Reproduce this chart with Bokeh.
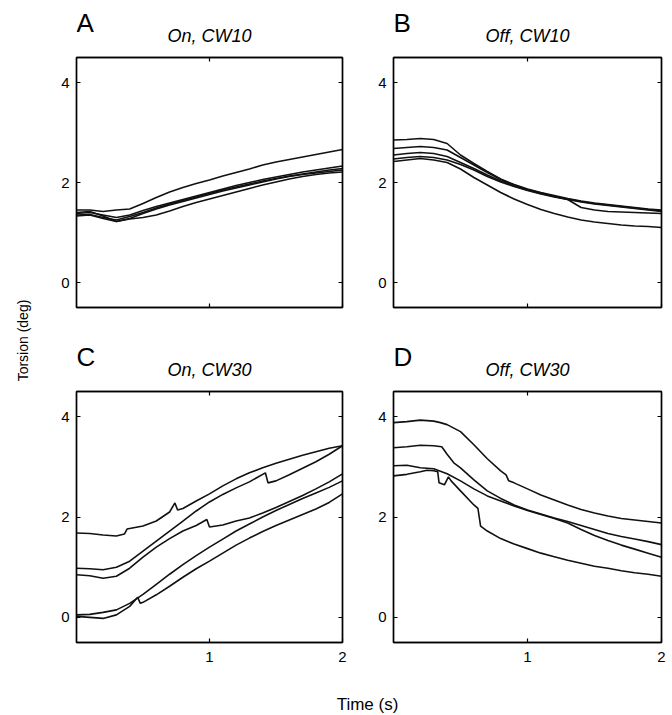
from bokeh.plotting import figure
from bokeh.layouts import row, column
from bokeh.models import Range1d, FixedTicker, LinearAxis
from bokeh.core.properties import value
from bokeh.embed import file_html
from bokeh.resources import INLINE

FONT = "Liberation Sans"

# ---------------- data (time in s, torsion in deg) ----------------
T21 = [0.0, 0.1, 0.2, 0.3, 0.4, 0.5, 0.6, 0.7, 0.8, 0.9, 1.0,
       1.1, 1.2, 1.3, 1.4, 1.5, 1.6, 1.7, 1.8, 1.9, 2.0]

# Panel A: On, CW10
a1 = [1.45, 1.45, 1.42, 1.45, 1.47, 1.58, 1.70, 1.81, 1.90, 1.98, 2.05, 2.13, 2.20, 2.27, 2.35, 2.41, 2.46, 2.51, 2.56, 2.61, 2.66]
a2 = [1.38, 1.40, 1.35, 1.30, 1.35, 1.44, 1.52, 1.59, 1.66, 1.73, 1.80, 1.87, 1.94, 2.00, 2.06, 2.11, 2.16, 2.21, 2.25, 2.29, 2.33]
a3 = [1.35, 1.36, 1.30, 1.25, 1.32, 1.40, 1.49, 1.57, 1.64, 1.71, 1.78, 1.85, 1.91, 1.97, 2.03, 2.08, 2.13, 2.17, 2.21, 2.25, 2.28]
a4 = [1.40, 1.42, 1.33, 1.22, 1.28, 1.38, 1.47, 1.55, 1.62, 1.69, 1.76, 1.83, 1.89, 1.95, 2.01, 2.07, 2.12, 2.16, 2.19, 2.22, 2.25]
a5 = [1.33, 1.35, 1.28, 1.22, 1.27, 1.30, 1.35, 1.43, 1.52, 1.60, 1.67, 1.74, 1.81, 1.88, 1.95, 2.01, 2.07, 2.12, 2.16, 2.19, 2.21]

# Panel B: Off, CW10
b1 = [2.85, 2.86, 2.88, 2.86, 2.78, 2.55, 2.38, 2.22, 2.07, 1.96, 1.87, 1.80, 1.74, 1.68, 1.63, 1.59, 1.56, 1.53, 1.50, 1.47, 1.45]
b2 = [2.68, 2.70, 2.72, 2.70, 2.65, 2.50, 2.35, 2.20, 2.06, 1.95, 1.86, 1.79, 1.72, 1.67, 1.62, 1.58, 1.55, 1.52, 1.49, 1.46, 1.43]
b3 = [2.55, 2.58, 2.60, 2.58, 2.52, 2.40, 2.28, 2.15, 2.03, 1.93, 1.85, 1.78, 1.72, 1.66, 1.50, 1.45, 1.42, 1.41, 1.40, 1.39, 1.38]
b4 = [2.47, 2.50, 2.52, 2.50, 2.45, 2.36, 2.25, 2.12, 2.01, 1.92, 1.84, 1.77, 1.71, 1.66, 1.61, 1.57, 1.54, 1.51, 1.48, 1.45, 1.42]
b5 = [2.42, 2.45, 2.48, 2.45, 2.40, 2.27, 2.10, 1.95, 1.80, 1.67, 1.56, 1.46, 1.38, 1.31, 1.25, 1.21, 1.18, 1.15, 1.13, 1.12, 1.10]

# Panel C: On, CW30
c1_t = [0.0, 0.1, 0.2, 0.3, 0.36, 0.38, 0.5, 0.6, 0.7, 0.74, 0.76, 0.8, 0.9, 1.0, 1.1, 1.2, 1.3, 1.4, 1.5, 1.6, 1.7, 1.8, 1.9, 2.0]
c1_v = [1.68, 1.67, 1.64, 1.62, 1.66, 1.76, 1.82, 1.92, 2.10, 2.28, 2.14, 2.17, 2.32, 2.46, 2.62, 2.76, 2.88, 2.98, 3.07, 3.15, 3.23, 3.30, 3.37, 3.42]
c2_t = [0.0, 0.1, 0.2, 0.3, 0.4, 0.5, 0.6, 0.7, 0.8, 0.9, 1.0, 1.1, 1.2, 1.3, 1.42, 1.44, 1.5, 1.6, 1.7, 1.8, 1.9, 2.0]
c2_v = [0.98, 0.97, 0.95, 1.00, 1.12, 1.32, 1.52, 1.72, 1.92, 2.12, 2.30, 2.45, 2.58, 2.70, 2.88, 2.68, 2.72, 2.84, 2.97, 3.10, 3.25, 3.42]
c3_t = [0.0, 0.1, 0.2, 0.3, 0.4, 0.5, 0.6, 0.7, 0.8, 0.9, 0.98, 1.0, 1.1, 1.2, 1.3, 1.4, 1.5, 1.6, 1.7, 1.8, 1.9, 2.0]
c3_v = [0.85, 0.83, 0.78, 0.82, 0.98, 1.20, 1.40, 1.57, 1.72, 1.83, 1.95, 1.80, 1.84, 1.92, 1.98, 2.08, 2.19, 2.31, 2.43, 2.56, 2.70, 2.86]
c4_v = [0.05, 0.06, 0.10, 0.15, 0.28, 0.46, 0.66, 0.86, 1.05, 1.23, 1.40, 1.56, 1.72, 1.86, 2.00, 2.13, 2.25, 2.37, 2.48, 2.59, 2.72]
c5_t = [0.0, 0.1, 0.2, 0.3, 0.4, 0.46, 0.48, 0.5, 0.6, 0.7, 0.8, 0.9, 1.0, 1.1, 1.2, 1.3, 1.4, 1.5, 1.6, 1.7, 1.8, 1.9, 2.0]
c5_v = [0.02, 0.00, -0.02, 0.05, 0.22, 0.40, 0.28, 0.30, 0.45, 0.62, 0.80, 0.97, 1.12, 1.28, 1.44, 1.58, 1.71, 1.83, 1.94, 2.05, 2.16, 2.29, 2.46]

# Panel D: Off, CW30
d1_t = [0.0, 0.1, 0.2, 0.3, 0.35, 0.4, 0.5, 0.6, 0.7, 0.8, 0.84, 0.86, 0.9, 1.0, 1.1, 1.2, 1.3, 1.4, 1.5, 1.6, 1.7, 1.8, 1.9, 2.0]
d1_v = [3.88, 3.90, 3.93, 3.91, 3.88, 3.84, 3.70, 3.44, 3.16, 2.92, 2.84, 2.72, 2.68, 2.56, 2.44, 2.34, 2.24, 2.15, 2.08, 2.02, 1.97, 1.94, 1.91, 1.88]
d2_t = [0.0, 0.1, 0.2, 0.3, 0.36, 0.4, 0.45, 0.5, 0.6, 0.7, 0.8, 0.9, 1.0, 1.1, 1.2, 1.3, 1.4, 1.5, 1.6, 1.7, 1.8, 1.9, 2.0]
d2_v = [3.38, 3.40, 3.43, 3.42, 3.40, 3.25, 3.08, 2.98, 2.74, 2.52, 2.37, 2.24, 2.14, 2.06, 1.98, 1.91, 1.83, 1.75, 1.67, 1.61, 1.56, 1.51, 1.45]
d3_v = [3.02, 3.03, 2.98, 2.96, 2.86, 2.72, 2.56, 2.42, 2.32, 2.22, 2.13, 2.05, 1.97, 1.88, 1.75, 1.63, 1.53, 1.44, 1.36, 1.28, 1.20]
d4_t = [0.0, 0.1, 0.2, 0.25, 0.3, 0.33, 0.34, 0.38, 0.41, 0.43, 0.5, 0.6, 0.63, 0.65, 0.7, 0.8, 0.9, 1.0, 1.1, 1.2, 1.3, 1.4, 1.5, 1.6, 1.7, 1.8, 1.9, 2.0]
d4_v = [2.82, 2.85, 2.90, 2.93, 2.92, 2.90, 2.68, 2.64, 2.80, 2.72, 2.52, 2.24, 2.17, 1.82, 1.72, 1.57, 1.46, 1.37, 1.28, 1.21, 1.14, 1.08, 1.02, 0.98, 0.93, 0.89, 0.86, 0.82]

panel_letters = ["A", "B", "C", "D"]
panel_titles = ["On, CW10", "Off, CW10", "On, CW30", "Off, CW30"]
y_ticks = [0, 2, 4]
x_ticks = [1, 2]
y_label = "Torsion (deg)"
x_label = "Time (s)"

panels_data = [
    [(T21, a1), (T21, a2), (T21, a3), (T21, a4), (T21, a5)],
    [(T21, b1), (T21, b2), (T21, b3), (T21, b4), (T21, b5)],
    [(c1_t, c1_v), (c2_t, c2_v), (c3_t, c3_v), (T21, c4_v), (c5_t, c5_v)],
    [(d1_t, d1_v), (d2_t, d2_v), (T21, d3_v), (d4_t, d4_v)],
]

LINE = "#111111"
HDR_H = 52        # header strip height (px) above each panel
LETTER_BASE = 30  # baseline of panel letter, px above header bottom
TITLE_BASE = 17   # baseline of panel title, px above header bottom


def style_axis(ax, ticks, show_labels, standoff):
    ax.ticker = FixedTicker(ticks=ticks)
    ax.major_tick_in = 4
    ax.major_tick_out = 0
    ax.minor_tick_line_color = None
    ax.major_tick_line_color = "black"
    ax.major_tick_line_width = 1.2
    ax.axis_line_color = "black"
    ax.axis_line_width = 1.4
    ax.major_label_text_font = FONT
    ax.major_label_text_font_size = "15px"
    ax.major_label_text_color = "black"
    ax.major_label_standoff = standoff
    if not show_labels:
        ax.major_label_overrides = {t: "" for t in ticks}
        ax.major_label_standoff = 0


def make_header(i, fw, ml, mr):
    h = figure(frame_width=fw, frame_height=HDR_H,
               x_range=Range1d(0, 2), y_range=Range1d(0, HDR_H),
               min_border_left=ml, min_border_right=mr,
               min_border_top=0, min_border_bottom=0,
               toolbar_location=None, output_backend="svg")
    h.axis.visible = False
    h.grid.visible = False
    h.outline_line_color = None
    h.text(x=[0], y=[LETTER_BASE], text=[panel_letters[i]],
           text_font=value(FONT), text_font_size=value("26px"),
           text_color="black", text_baseline="alphabetic", text_align="left")
    h.text(x=[1], y=[TITLE_BASE], text=[panel_titles[i]],
           text_font=value(FONT), text_font_size=value("18px"),
           text_font_style="italic", text_color="black",
           text_baseline="alphabetic", text_align="center")
    return h


def make_panel(i, fw, fh, ml, mr, mt, mb, xlabels):
    p = figure(frame_width=fw, frame_height=fh,
               x_range=Range1d(0, 2), y_range=Range1d(-0.5, 4.5),
               min_border_left=ml, min_border_right=mr,
               min_border_top=mt, min_border_bottom=mb,
               toolbar_location=None, output_backend="svg", title=None)
    p.grid.visible = False
    p.outline_line_color = "black"
    p.outline_line_width = 1.4
    style_axis(p.left[0], y_ticks, True, 7)
    style_axis(p.below[0], x_ticks, xlabels, 9)
    right = LinearAxis()
    style_axis(right, y_ticks, False, 0)
    p.add_layout(right, "right")
    top = LinearAxis()
    style_axis(top, [1], False, 0)
    p.add_layout(top, "above")
    for t, v in panels_data[i]:
        p.line(t, v, line_color=LINE, line_width=1.6)
    return p


hA = make_header(0, 266, 40, 12)
hB = make_header(1, 268, 39, 11)
hC = make_header(2, 266, 40, 12)
hD = make_header(3, 268, 39, 11)
pA = make_panel(0, 266, 250, 40, 12, 5, 27, False)
pB = make_panel(1, 268, 250, 39, 11, 5, 27, False)
pC = make_panel(2, 266, 251, 40, 12, 5, 30, True)
pD = make_panel(3, 268, 251, 39, 11, 5, 30, True)

# y-axis title column
ylab = figure(frame_width=1, frame_height=680, min_border_left=35,
              min_border_right=0, min_border_top=0, min_border_bottom=35,
              x_range=Range1d(0, 1), y_range=Range1d(0, 1),
              toolbar_location=None, output_backend="svg")
ylab.grid.visible = False
ylab.outline_line_color = None
ylab.xaxis.visible = False
ya = ylab.yaxis[0]
ya.ticker = FixedTicker(ticks=[])
ya.axis_line_color = None
ya.major_tick_line_color = None
ya.minor_tick_line_color = None
ya.major_label_standoff = 0
ya.axis_label = y_label
ya.axis_label_text_font = FONT
ya.axis_label_text_font_size = "14px"
ya.axis_label_text_font_style = "normal"
ya.axis_label_text_color = "black"
ya.axis_label_standoff = 5

# x-axis title row
xlab = figure(frame_width=582, frame_height=1, min_border_left=40,
              min_border_right=14, min_border_top=0, min_border_bottom=42,
              x_range=Range1d(0, 1), y_range=Range1d(0, 1),
              toolbar_location=None, output_backend="svg")
xlab.grid.visible = False
xlab.outline_line_color = None
xlab.yaxis.visible = False
xa = xlab.xaxis[0]
xa.ticker = FixedTicker(ticks=[])
xa.axis_line_color = None
xa.major_tick_line_color = None
xa.minor_tick_line_color = None
xa.major_label_standoff = 0
xa.axis_label = x_label
xa.axis_label_text_font = FONT
xa.axis_label_text_font_size = "17px"
xa.axis_label_text_font_style = "normal"
xa.axis_label_text_color = "black"
xa.axis_label_standoff = 21

layout = row(ylab, column(row(hA, hB), row(pA, pB), row(hC, hD), row(pC, pD), xlab))

open("out.html", "w").write(file_html(layout, INLINE))
